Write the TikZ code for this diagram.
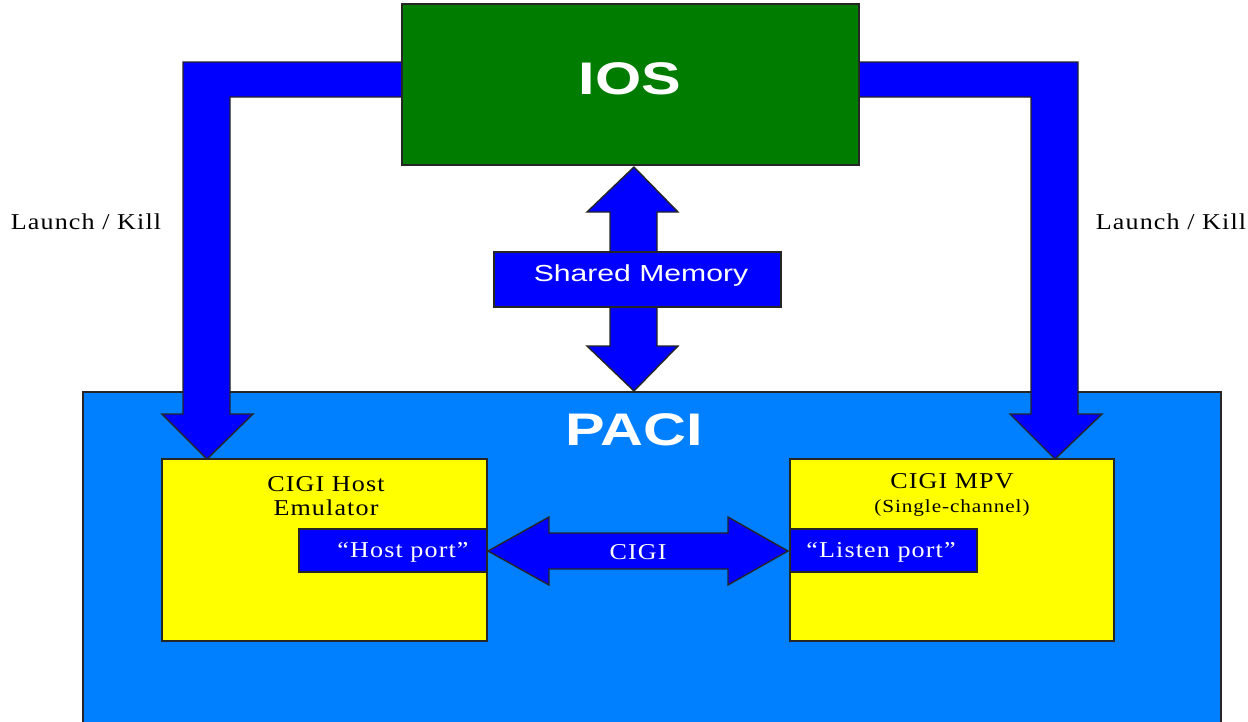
\documentclass[tikz,border=0pt]{standalone}
\usepackage{fontspec}
\setmainfont{Liberation Serif}[FakeStretch=1.15, LetterSpace=5]
\setsansfont{Liberation Sans}[FakeStretch=1.3]
\usetikzlibrary{positioning,calc}
\definecolor{iosgreen}{RGB}{0,125,0}
\definecolor{paciblue}{RGB}{0,128,255}
\definecolor{arrblue}{RGB}{0,0,255}
\definecolor{boxyellow}{RGB}{255,255,0}
\tikzset{outl/.style={draw=black!85, line width=0.8pt}}
\tikzset{dbox/.style={outl, rectangle, inner sep=0pt}}
\tikzset{bigtitle/.style={text=white, font=\sffamily\bfseries\fontsize{26}{30}\selectfont}}
\tikzset{blockarr/.style={outl, fill=arrblue, line join=miter}}
\tikzset{lbl/.style={font=\fontsize{12.9}{13.6}\selectfont, align=center, inner sep=0pt}}
\tikzset{wlbl/.style={lbl, text=white}}

\begin{document}
\begin{tikzpicture}[x=0.02cm, y=-0.02cm]
		\useasboundingbox (0,0) rectangle (1248,721);
		\clip (0,0) rectangle (1248,721);
		\fill[white] (0,0) rectangle (1248,721);
		% main boxes
		\node[dbox, fill=paciblue, minimum width=22.76cm, minimum height=6.96cm] (paci) at (652,566) {};
		\node[bigtitle] (pacit) at (634,430) {PACI};
		% launch / kill arrows
		\draw[blockarr] (402,62) -- (183,62) -- (183,414) -- (162,414) -- (207,459) -- (253,414)
			-- (230,414) -- (230,97) -- (402,97) -- cycle;
		\draw[blockarr] (859,62) -- (1078,62) -- (1078,414) -- (1102,414) -- (1055,459) -- (1010,414)
			-- (1031,414) -- (1031,97) -- (859,97) -- cycle;
		\node[dbox, fill=iosgreen, minimum width=9.14cm, minimum height=3.22cm] (ios) at (630.5,84.5) {};
		\node[bigtitle] (iost) at (630,79) {IOS};
		\node[lbl] (lkl) at (86,222) {Launch / Kill};
		\node[lbl] (lkr) at (1171,222) {Launch / Kill};
		% shared memory
		\draw[blockarr] (634,167) -- (678,212) -- (657,212) -- (657,346) -- (678,346) -- (634,391)
			-- (587,346) -- (610,346) -- (610,212) -- (587,212) -- cycle;
		\draw[blockarr] (494,252) rectangle (781,307);
		\node[text=white, font=\sffamily\fontsize{13.2}{15}\selectfont] (shm) at (641,275) {Shared Memory};
		% CIGI boxes
		\node[dbox, fill=boxyellow, minimum width=6.5cm, minimum height=3.64cm] (host) at (324.5,550) {};
		\node[dbox, fill=boxyellow, minimum width=6.48cm, minimum height=3.64cm] (mpv) at (952,550) {};
		\node[lbl] (hostt) at (326,496) {CIGI Host\\Emulator};
		\node[lbl] (mpvt) at (952,495) {CIGI MPV\\{\fontsize{10.5}{12}\selectfont (Single-channel)}};
		\node[dbox, fill=arrblue, minimum width=3.76cm, minimum height=0.86cm] (hport) at (393,550.5) {};
		\node[dbox, fill=arrblue, minimum width=3.74cm, minimum height=0.86cm] (lport) at (883.5,550.5) {};
		\node[wlbl] (hportt) at (403,552) {“Host port”};
		\node[wlbl] (lportt) at (881,552) {“Listen port”};
		% CIGI link
		\draw[blockarr] (488,551) -- (549,517) -- (549,533) -- (728,533) -- (728,517) -- (788,551)
			-- (728,585) -- (728,569) -- (549,569) -- (549,585) -- cycle;
		\node[wlbl] (cigi) at (638,552) {CIGI};
	\end{tikzpicture}
\end{document}
